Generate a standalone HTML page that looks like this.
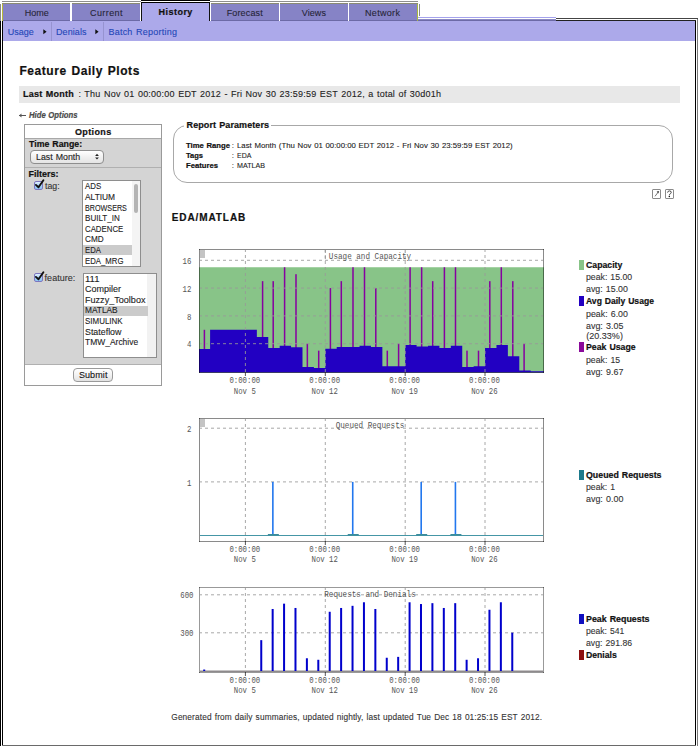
<!DOCTYPE html><html><head><meta charset="utf-8"><style>div{-webkit-text-stroke:0.1px currentColor}html,body{margin:0;padding:0;background:#fff;width:700px;height:748px;overflow:hidden;position:relative}</style></head><body><div style="position:absolute;left:0px;top:21px;width:1px;height:725px;background:#000;"></div>
<div style="position:absolute;left:0px;top:4px;width:1px;height:17px;background:#8a8a8a;"></div>
<div style="position:absolute;left:2px;top:3px;width:1px;height:743px;background:#000;"></div>
<div style="position:absolute;left:695px;top:20px;width:1px;height:726px;background:#000;"></div>
<div style="position:absolute;left:697px;top:19px;width:1px;height:727px;background:#7a7a7a;"></div>
<div style="position:absolute;left:2px;top:745px;width:694px;height:1px;background:#6a6a6a;"></div>
<div style="position:absolute;left:2px;top:1px;width:69px;height:1px;background:#8e8e8e;"></div>
<div style="position:absolute;left:2px;top:3px;width:69px;height:1px;background:#8a8a74;"></div>
<div style="position:absolute;left:3px;top:4px;width:67px;height:16px;background:#8683c6;"></div>
<div style="position:absolute;left:3px;top:20px;width:67px;height:1px;background:#6c6aa6;"></div>
<div style="position:absolute;left:71px;top:1px;width:70px;height:1px;background:#8e8e8e;"></div>
<div style="position:absolute;left:71px;top:3px;width:70px;height:1px;background:#8a8a74;"></div>
<div style="position:absolute;left:72px;top:4px;width:68px;height:16px;background:#8683c6;"></div>
<div style="position:absolute;left:72px;top:20px;width:68px;height:1px;background:#6c6aa6;"></div>
<div style="position:absolute;left:210px;top:1px;width:70px;height:1px;background:#8e8e8e;"></div>
<div style="position:absolute;left:210px;top:3px;width:70px;height:1px;background:#8a8a74;"></div>
<div style="position:absolute;left:211px;top:4px;width:68px;height:16px;background:#8683c6;"></div>
<div style="position:absolute;left:211px;top:20px;width:68px;height:1px;background:#6c6aa6;"></div>
<div style="position:absolute;left:279px;top:1px;width:70px;height:1px;background:#8e8e8e;"></div>
<div style="position:absolute;left:279px;top:3px;width:70px;height:1px;background:#8a8a74;"></div>
<div style="position:absolute;left:280px;top:4px;width:68px;height:16px;background:#8683c6;"></div>
<div style="position:absolute;left:280px;top:20px;width:68px;height:1px;background:#6c6aa6;"></div>
<div style="position:absolute;left:348px;top:1px;width:70px;height:1px;background:#8e8e8e;"></div>
<div style="position:absolute;left:348px;top:3px;width:70px;height:1px;background:#8a8a74;"></div>
<div style="position:absolute;left:349px;top:4px;width:68px;height:16px;background:#8683c6;"></div>
<div style="position:absolute;left:349px;top:20px;width:68px;height:1px;background:#6c6aa6;"></div>
<div style="position:absolute;left:70px;top:3px;width:1px;height:18px;background:#ffffff;"></div>
<div style="position:absolute;left:71px;top:3px;width:1px;height:18px;background:#ffffff;"></div>
<div style="position:absolute;left:140px;top:3px;width:1px;height:18px;background:#ffffff;"></div>
<div style="position:absolute;left:210px;top:3px;width:1px;height:18px;background:#ffffff;"></div>
<div style="position:absolute;left:279px;top:3px;width:1px;height:18px;background:#ffffff;"></div>
<div style="position:absolute;left:348px;top:3px;width:1px;height:18px;background:#ffffff;"></div>
<div style="position:absolute;left:141px;top:0px;width:69px;height:1px;background:#000;"></div>
<div style="position:absolute;left:141px;top:1px;width:69px;height:1px;background:#fff;"></div>
<div style="position:absolute;left:141px;top:2px;width:69px;height:1px;background:#000;"></div>
<div style="position:absolute;left:141px;top:3px;width:1px;height:18px;background:#111;"></div>
<div style="position:absolute;left:209px;top:3px;width:1px;height:18px;background:#111;"></div>
<div style="position:absolute;left:142px;top:3px;width:67px;height:18px;background:#aca9ea;"></div>
<div style="position:absolute;left:2px;top:4px;width:1px;height:17px;background:#b8b83a;"></div>
<div style="position:absolute;left:417px;top:4px;width:1px;height:17px;background:#a8b840;"></div>
<div style="position:absolute;left:419px;top:4px;width:1px;height:12px;background:#8a8a8a;"></div>
<div style="position:absolute;left:418px;top:17px;width:138px;height:1px;background:#a4a2ec;"></div>
<div style="position:absolute;left:418px;top:19px;width:138px;height:1px;background:#8b89c4;"></div>
<div style="position:absolute;left:418px;top:20px;width:138px;height:1px;background:#6c6aa6;"></div>
<div style="position:absolute;left:556px;top:18px;width:142px;height:1px;background:#444;"></div>
<div style="position:absolute;left:556px;top:20px;width:140px;height:1px;background:#222;"></div>
<div style="position:absolute;left:24.7px;top:8.78px;font-family:'Liberation Sans', sans-serif;font-size:9px;line-height:9px;font-weight:normal;font-style:normal;color:#262538;letter-spacing:-0.01px;word-spacing:0.666px;white-space:nowrap;">Home</div>
<div style="position:absolute;left:90.0px;top:8.78px;font-family:'Liberation Sans', sans-serif;font-size:9px;line-height:9px;font-weight:normal;font-style:normal;color:#262538;letter-spacing:0.423px;word-spacing:0.666px;white-space:nowrap;">Current</div>
<div style="position:absolute;left:158.6px;top:7.88px;font-family:'Liberation Sans', sans-serif;font-size:9px;line-height:9px;font-weight:bold;font-style:normal;color:#111111;letter-spacing:0.458px;word-spacing:0.576px;white-space:nowrap;-webkit-text-stroke:0.2px currentColor;">History</div>
<div style="position:absolute;left:226.7px;top:8.78px;font-family:'Liberation Sans', sans-serif;font-size:9px;line-height:9px;font-weight:normal;font-style:normal;color:#262538;letter-spacing:0.141px;word-spacing:0.666px;white-space:nowrap;">Forecast</div>
<div style="position:absolute;left:301.8px;top:8.78px;font-family:'Liberation Sans', sans-serif;font-size:9px;line-height:9px;font-weight:normal;font-style:normal;color:#262538;letter-spacing:0.062px;word-spacing:0.666px;white-space:nowrap;">Views</div>
<div style="position:absolute;left:365.0px;top:8.78px;font-family:'Liberation Sans', sans-serif;font-size:9px;line-height:9px;font-weight:normal;font-style:normal;color:#262538;letter-spacing:0.313px;word-spacing:0.666px;white-space:nowrap;">Network</div>
<div style="position:absolute;left:3px;top:21px;width:692px;height:20px;background:#aca9ea;"></div>
<div style="position:absolute;left:51px;top:22px;width:1px;height:19px;background:#9693d0;"></div>
<div style="position:absolute;left:103px;top:22px;width:1px;height:19px;background:#9693d0;"></div>
<div style="position:absolute;left:7.7px;top:28.08px;font-family:'Liberation Sans', sans-serif;font-size:9px;line-height:9px;font-weight:normal;font-style:normal;color:#2447b8;letter-spacing:0.022px;word-spacing:0.666px;white-space:nowrap;">Usage</div>
<div style="position:absolute;left:56.0px;top:28.08px;font-family:'Liberation Sans', sans-serif;font-size:9px;line-height:9px;font-weight:normal;font-style:normal;color:#2447b8;letter-spacing:0.072px;word-spacing:0.666px;white-space:nowrap;">Denials</div>
<div style="position:absolute;left:108.4px;top:28.08px;font-family:'Liberation Sans', sans-serif;font-size:9px;line-height:9px;font-weight:normal;font-style:normal;color:#2447b8;letter-spacing:0.243px;word-spacing:0.666px;white-space:nowrap;">Batch Reporting</div>
<svg style="position:absolute;left:42.7px;top:28.5px" width="5" height="7"><path d="M0.3 0.3 L3.6 2.8 L0.3 5.3 Z" fill="#111"/></svg>
<svg style="position:absolute;left:94.7px;top:28.5px" width="5" height="7"><path d="M0.3 0.3 L3.6 2.8 L0.3 5.3 Z" fill="#111"/></svg>
<div style="position:absolute;left:19.4px;top:64.84px;font-family:'Liberation Sans', sans-serif;font-size:12px;line-height:12px;font-weight:bold;font-style:normal;color:#111;letter-spacing:0.576px;word-spacing:0.768px;white-space:nowrap;-webkit-text-stroke:0.2px currentColor;">Feature Daily Plots</div>
<div style="position:absolute;left:19px;top:86px;width:661px;height:17px;background:#e8e8e8;"></div>
<div style="position:absolute;left:22.9px;top:89.58px;font-family:'Liberation Sans', sans-serif;font-size:9px;line-height:9px;font-weight:bold;font-style:normal;color:#111;letter-spacing:0.262px;word-spacing:0.576px;white-space:nowrap;-webkit-text-stroke:0.2px currentColor;">Last Month</div>
<div style="position:absolute;left:78.4px;top:89.58px;font-family:'Liberation Sans', sans-serif;font-size:9px;line-height:9px;font-weight:normal;font-style:normal;color:#222;letter-spacing:0.229px;word-spacing:0.666px;white-space:nowrap;">: Thu Nov 01 00:00:00 EDT 2012 - Fri Nov 30 23:59:59 EST 2012, a total of 30d01h</div>
<div style="position:absolute;left:28.5px;top:110.97px;font-family:'Liberation Sans', sans-serif;font-size:8.3px;line-height:8.3px;font-weight:bold;font-style:italic;color:#4a4a4a;letter-spacing:0px;word-spacing:0.531px;white-space:nowrap;transform:scaleX(0.9299);transform-origin:0.00px 0;-webkit-text-stroke:0.2px currentColor;">Hide Options</div>
<svg style="position:absolute;left:18px;top:112px" width="9" height="7"><path d="M1 3.5 H8" stroke="#555" stroke-width="1"/><path d="M1 3.5 L3.5 1.5 L3.5 5.5 Z" fill="#555"/></svg>
<div style="position:absolute;left:24px;top:124px;width:138px;height:262px;background:#fff;box-sizing:border-box;border:1px solid #9a9a9a"></div>
<div style="position:absolute;left:25px;top:138px;width:136px;height:226px;background:#d4d4d4;"></div>
<div style="position:absolute;left:25px;top:138px;width:136px;height:1px;background:#a8a8a8;"></div>
<div style="position:absolute;left:25px;top:167px;width:136px;height:1px;background:#b0b0b0;"></div>
<div style="position:absolute;left:25px;top:364px;width:136px;height:1px;background:#b0b0b0;"></div>
<div style="position:absolute;left:75.0px;top:127.78px;font-family:'Liberation Sans', sans-serif;font-size:9px;line-height:9px;font-weight:bold;font-style:normal;color:#111;letter-spacing:0.363px;word-spacing:0.576px;white-space:nowrap;-webkit-text-stroke:0.2px currentColor;">Options</div>
<div style="position:absolute;left:28.5px;top:139.58px;font-family:'Liberation Sans', sans-serif;font-size:9px;line-height:9px;font-weight:bold;font-style:normal;color:#111;letter-spacing:0px;word-spacing:0.576px;white-space:nowrap;transform:scaleX(0.9762);transform-origin:0.00px 0;-webkit-text-stroke:0.2px currentColor;">Time Range:</div>
<div style="position:absolute;left:30px;top:150.4px;width:74px;height:13.3px;box-sizing:border-box;border:1px solid #8e8e8e;border-radius:4px;background:linear-gradient(#ffffff,#f0f0f0 50%,#e4e4e4)"></div>
<div style="position:absolute;left:35.9px;top:152.88px;font-family:'Liberation Sans', sans-serif;font-size:9px;line-height:9px;font-weight:normal;font-style:normal;color:#222;letter-spacing:0px;word-spacing:0.666px;white-space:nowrap;transform:scaleX(0.9775);transform-origin:0.00px 0;">Last Month</div>
<svg style="position:absolute;left:94px;top:153px" width="6" height="8"><path d="M3 0.8 L4.9 3.1 L1.1 3.1 Z M3 6.6 L4.9 4.4 L1.1 4.4 Z" fill="#222"/></svg>
<div style="position:absolute;left:28.5px;top:169.78px;font-family:'Liberation Sans', sans-serif;font-size:9px;line-height:9px;font-weight:bold;font-style:normal;color:#111;letter-spacing:0.004px;word-spacing:0.576px;white-space:nowrap;-webkit-text-stroke:0.2px currentColor;">Filters:</div>
<div style="position:absolute;left:33.5px;top:181px;width:9px;height:9.2px;box-sizing:border-box;border:1px solid #7d76c0;border-radius:2px;background:linear-gradient(#e0f0ff,#9fcff8 60%,#8cc4f4)"></div><svg style="position:absolute;left:33.5px;top:178px" width="12" height="13"><path d="M1.9 6.9 L4.5 9.3 L9.4 2.2" stroke="#111" stroke-width="1.9" fill="none" stroke-linecap="round" stroke-linejoin="round"/></svg>
<div style="position:absolute;left:44.8px;top:181.78px;font-family:'Liberation Sans', sans-serif;font-size:9px;line-height:9px;font-weight:normal;font-style:normal;color:#333;letter-spacing:0px;word-spacing:0.666px;white-space:nowrap;transform:scaleX(0.9714);transform-origin:0.00px 0;">tag:</div>
<div style="position:absolute;left:33.5px;top:273.2px;width:9px;height:9.2px;box-sizing:border-box;border:1px solid #7d76c0;border-radius:2px;background:linear-gradient(#e0f0ff,#9fcff8 60%,#8cc4f4)"></div><svg style="position:absolute;left:33.5px;top:270.2px" width="12" height="13"><path d="M1.9 6.9 L4.5 9.3 L9.4 2.2" stroke="#111" stroke-width="1.9" fill="none" stroke-linecap="round" stroke-linejoin="round"/></svg>
<div style="position:absolute;left:44.6px;top:274.38px;font-family:'Liberation Sans', sans-serif;font-size:9px;line-height:9px;font-weight:normal;font-style:normal;color:#333;letter-spacing:0.013px;word-spacing:0.666px;white-space:nowrap;">feature:</div>
<div style="position:absolute;left:82px;top:180px;width:59px;height:87px;background:#fff;box-sizing:border-box;border:1px solid #8e8e8e"></div>
<div style="position:absolute;left:83px;top:245.3px;width:49px;height:9.5px;background:#cbcbcb;"></div>
<div style="position:absolute;left:132px;top:181px;width:8px;height:85px;background:#f4f4f4;"></div>
<div style="position:absolute;left:134.2px;top:183.6px;width:3.8px;height:29.4px;background:#b4b4b4;border-radius:2px"></div>
<div style="position:absolute;left:84.8px;top:182.32px;font-family:'Liberation Sans', sans-serif;font-size:8.6px;line-height:8.6px;font-weight:normal;font-style:normal;color:#222;letter-spacing:0px;word-spacing:0.636px;white-space:nowrap;transform:scaleX(0.9144);transform-origin:0.00px 0;">ADS</div>
<div style="position:absolute;left:84.8px;top:192.92px;font-family:'Liberation Sans', sans-serif;font-size:8.6px;line-height:8.6px;font-weight:normal;font-style:normal;color:#222;letter-spacing:0px;word-spacing:0.636px;white-space:nowrap;transform:scaleX(0.9749);transform-origin:0.00px 0;">ALTIUM</div>
<div style="position:absolute;left:84.8px;top:203.52px;font-family:'Liberation Sans', sans-serif;font-size:8.6px;line-height:8.6px;font-weight:normal;font-style:normal;color:#222;letter-spacing:0px;word-spacing:0.636px;white-space:nowrap;transform:scaleX(0.8357);transform-origin:0.00px 0;">BROWSERS</div>
<div style="position:absolute;left:84.8px;top:214.12px;font-family:'Liberation Sans', sans-serif;font-size:8.6px;line-height:8.6px;font-weight:normal;font-style:normal;color:#222;letter-spacing:0px;word-spacing:0.636px;white-space:nowrap;transform:scaleX(0.9394);transform-origin:0.00px 0;">BUILT_IN</div>
<div style="position:absolute;left:84.8px;top:224.72px;font-family:'Liberation Sans', sans-serif;font-size:8.6px;line-height:8.6px;font-weight:normal;font-style:normal;color:#222;letter-spacing:0px;word-spacing:0.636px;white-space:nowrap;transform:scaleX(0.9107);transform-origin:0.00px 0;">CADENCE</div>
<div style="position:absolute;left:84.8px;top:235.32px;font-family:'Liberation Sans', sans-serif;font-size:8.6px;line-height:8.6px;font-weight:normal;font-style:normal;color:#222;letter-spacing:0px;word-spacing:0.636px;white-space:nowrap;transform:scaleX(0.9537);transform-origin:0.00px 0;">CMD</div>
<div style="position:absolute;left:84.8px;top:245.92px;font-family:'Liberation Sans', sans-serif;font-size:8.6px;line-height:8.6px;font-weight:normal;font-style:normal;color:#222;letter-spacing:0px;word-spacing:0.636px;white-space:nowrap;transform:scaleX(0.8975);transform-origin:0.00px 0;">EDA</div>
<div style="position:absolute;left:84.8px;top:256.52px;font-family:'Liberation Sans', sans-serif;font-size:8.6px;line-height:8.6px;font-weight:normal;font-style:normal;color:#222;letter-spacing:0px;word-spacing:0.636px;white-space:nowrap;transform:scaleX(0.9044);transform-origin:0.00px 0;">EDA_MRG</div>
<div style="position:absolute;left:82.5px;top:272.5px;width:74px;height:85.5px;background:#fff;box-sizing:border-box;border:1px solid #8e8e8e"></div>
<div style="position:absolute;left:147.4px;top:273.5px;width:8.6px;height:83.5px;background:#f2f2f2;"></div>
<div style="position:absolute;left:83.5px;top:305.5px;width:64px;height:10px;background:#cbcbcb;"></div>
<div style="position:absolute;left:84.8px;top:274.62px;font-family:'Liberation Sans', sans-serif;font-size:8.6px;line-height:8.6px;font-weight:normal;font-style:normal;color:#222;letter-spacing:0px;word-spacing:0.636px;white-space:nowrap;transform:scaleX(1.1092);transform-origin:0.00px 0;">111</div>
<div style="position:absolute;left:84.8px;top:285.2px;font-family:'Liberation Sans', sans-serif;font-size:8.6px;line-height:8.6px;font-weight:normal;font-style:normal;color:#222;letter-spacing:0px;word-spacing:0.636px;white-space:nowrap;transform:scaleX(1.0494);transform-origin:0.00px 0;">Compiler</div>
<div style="position:absolute;left:84.8px;top:295.78px;font-family:'Liberation Sans', sans-serif;font-size:8.6px;line-height:8.6px;font-weight:normal;font-style:normal;color:#222;letter-spacing:0px;word-spacing:0.636px;white-space:nowrap;transform:scaleX(1.0547);transform-origin:0.00px 0;">Fuzzy_Toolbox</div>
<div style="position:absolute;left:84.8px;top:306.36px;font-family:'Liberation Sans', sans-serif;font-size:8.6px;line-height:8.6px;font-weight:normal;font-style:normal;color:#222;letter-spacing:0px;word-spacing:0.636px;white-space:nowrap;transform:scaleX(0.9675);transform-origin:0.00px 0;">MATLAB</div>
<div style="position:absolute;left:84.8px;top:316.94px;font-family:'Liberation Sans', sans-serif;font-size:8.6px;line-height:8.6px;font-weight:normal;font-style:normal;color:#222;letter-spacing:0px;word-spacing:0.636px;white-space:nowrap;transform:scaleX(0.9263);transform-origin:0.00px 0;">SIMULINK</div>
<div style="position:absolute;left:84.8px;top:327.52px;font-family:'Liberation Sans', sans-serif;font-size:8.6px;line-height:8.6px;font-weight:normal;font-style:normal;color:#222;letter-spacing:0px;word-spacing:0.636px;white-space:nowrap;transform:scaleX(1.0301);transform-origin:0.00px 0;">Stateflow</div>
<div style="position:absolute;left:84.8px;top:338.1px;font-family:'Liberation Sans', sans-serif;font-size:8.6px;line-height:8.6px;font-weight:normal;font-style:normal;color:#222;letter-spacing:0px;word-spacing:0.636px;white-space:nowrap;transform:scaleX(0.9850);transform-origin:0.00px 0;">TMW_Archive</div>
<div style="position:absolute;left:73px;top:368px;width:40px;height:14px;box-sizing:border-box;border:1px solid #9a9a9a;border-radius:4px;background:linear-gradient(#ffffff,#f2f2f2 50%,#e2e2e2)"></div>
<div style="position:absolute;left:78.9px;top:370.88px;font-family:'Liberation Sans', sans-serif;font-size:9px;line-height:9px;font-weight:normal;font-style:normal;color:#111;letter-spacing:0.102px;word-spacing:0.666px;white-space:nowrap;">Submit</div>
<div style="position:absolute;left:172.5px;top:125px;width:500.5px;height:57.5px;box-sizing:border-box;border:1px solid #a8a8a8;border-radius:14px"></div>
<div style="position:absolute;left:184px;top:122px;width:87px;height:6px;background:#fff;"></div>
<div style="position:absolute;left:186.6px;top:120.68px;font-family:'Liberation Sans', sans-serif;font-size:9px;line-height:9px;font-weight:bold;font-style:normal;color:#111;letter-spacing:0.08px;word-spacing:0.576px;white-space:nowrap;-webkit-text-stroke:0.2px currentColor;">Report Parameters</div>
<div style="position:absolute;left:186.0px;top:142.03px;font-family:'Liberation Sans', sans-serif;font-size:8px;line-height:8px;font-weight:bold;font-style:normal;color:#111;letter-spacing:0px;word-spacing:0.512px;white-space:nowrap;transform:scaleX(0.9625);transform-origin:0.00px 0;-webkit-text-stroke:0.2px currentColor;">Time Range</div>
<div style="position:absolute;left:231.8px;top:142.03px;font-family:'Liberation Sans', sans-serif;font-size:8px;line-height:8px;font-weight:normal;font-style:normal;color:#222;letter-spacing:0px;word-spacing:0.592px;white-space:nowrap;">:</div>
<div style="position:absolute;left:236.6px;top:142.03px;font-family:'Liberation Sans', sans-serif;font-size:8px;line-height:8px;font-weight:normal;font-style:normal;color:#222;letter-spacing:0px;word-spacing:0.592px;white-space:nowrap;transform:scaleX(0.9730);transform-origin:0.00px 0;">Last Month (Thu Nov 01 00:00:00 EDT 2012 - Fri Nov 30 23:59:59 EST 2012)</div>
<div style="position:absolute;left:186.0px;top:151.78px;font-family:'Liberation Sans', sans-serif;font-size:8px;line-height:8px;font-weight:bold;font-style:normal;color:#111;letter-spacing:0px;word-spacing:0.512px;white-space:nowrap;transform:scaleX(0.9403);transform-origin:0.00px 0;-webkit-text-stroke:0.2px currentColor;">Tags</div>
<div style="position:absolute;left:231.8px;top:151.78px;font-family:'Liberation Sans', sans-serif;font-size:8px;line-height:8px;font-weight:normal;font-style:normal;color:#222;letter-spacing:0px;word-spacing:0.592px;white-space:nowrap;">:</div>
<div style="position:absolute;left:236.6px;top:151.78px;font-family:'Liberation Sans', sans-serif;font-size:8px;line-height:8px;font-weight:normal;font-style:normal;color:#222;letter-spacing:0px;word-spacing:0.592px;white-space:nowrap;transform:scaleX(0.8738);transform-origin:0.00px 0;">EDA</div>
<div style="position:absolute;left:186.0px;top:161.93px;font-family:'Liberation Sans', sans-serif;font-size:8px;line-height:8px;font-weight:bold;font-style:normal;color:#111;letter-spacing:0px;word-spacing:0.512px;white-space:nowrap;transform:scaleX(0.9592);transform-origin:0.00px 0;-webkit-text-stroke:0.2px currentColor;">Features</div>
<div style="position:absolute;left:231.8px;top:161.93px;font-family:'Liberation Sans', sans-serif;font-size:8px;line-height:8px;font-weight:normal;font-style:normal;color:#222;letter-spacing:0px;word-spacing:0.592px;white-space:nowrap;">:</div>
<div style="position:absolute;left:236.6px;top:161.93px;font-family:'Liberation Sans', sans-serif;font-size:8px;line-height:8px;font-weight:normal;font-style:normal;color:#222;letter-spacing:0px;word-spacing:0.592px;white-space:nowrap;transform:scaleX(0.8906);transform-origin:0.00px 0;">MATLAB</div>
<div style="position:absolute;left:652.2px;top:189.2px;width:8.8px;height:9.4px;background:#fff;box-sizing:border-box;border:1px solid #8a8a8a;border-radius:1px"></div>
<div style="position:absolute;left:665.2px;top:189.2px;width:8.8px;height:9.4px;background:#fff;box-sizing:border-box;border:1px solid #8a8a8a;border-radius:1px"></div>
<svg style="position:absolute;left:652.2px;top:189.2px" width="9" height="10"><path d="M3 7.3 L6.6 2.6" stroke="#666" stroke-width="0.9" fill="none"/><path d="M7 2 L4.6 2.6 L6.4 4.4 Z" fill="#444"/></svg>
<svg style="position:absolute;left:665.2px;top:189.2px" width="9" height="10"><path d="M2.6 3.6 Q2.8 1.8 4.6 1.9 Q6.6 2.1 6.2 3.7 Q5.9 4.6 4.6 5.3 L4.4 6.3" stroke="#333" stroke-width="0.9" fill="none"/><circle cx="4.3" cy="7.6" r="0.75" fill="#111"/></svg>
<div style="position:absolute;left:171.7px;top:212.84px;font-family:'Liberation Sans', sans-serif;font-size:10px;line-height:10px;font-weight:bold;font-style:normal;color:#111;letter-spacing:0.911px;word-spacing:0.64px;white-space:nowrap;-webkit-text-stroke:0.2px currentColor;">EDA/MATLAB</div>
<svg style="position:absolute;left:0;top:0" width="700" height="748"><rect x="199" y="267.25" width="345" height="105.35" fill="#88c488"/><rect x="203.65" y="329.80" width="1.5" height="42.10" fill="#8600a0"/><rect x="261.85" y="281.15" width="1.5" height="90.75" fill="#8600a0"/><rect x="272.45" y="281.15" width="1.5" height="90.75" fill="#8600a0"/><rect x="283.85" y="267.25" width="1.5" height="104.65" fill="#8600a0"/><rect x="295.25" y="274.20" width="1.5" height="97.70" fill="#8600a0"/><rect x="306.60" y="343.70" width="1.5" height="28.20" fill="#8600a0"/><rect x="317.95" y="350.65" width="1.5" height="21.25" fill="#8600a0"/><rect x="329.65" y="288.10" width="1.5" height="83.80" fill="#8600a0"/><rect x="340.55" y="281.15" width="1.5" height="90.75" fill="#8600a0"/><rect x="352.25" y="267.25" width="1.5" height="104.65" fill="#8600a0"/><rect x="363.75" y="267.25" width="1.5" height="104.65" fill="#8600a0"/><rect x="375.05" y="288.10" width="1.5" height="83.80" fill="#8600a0"/><rect x="386.55" y="350.65" width="1.5" height="21.25" fill="#8600a0"/><rect x="397.85" y="343.70" width="1.5" height="28.20" fill="#8600a0"/><rect x="409.35" y="267.25" width="1.5" height="104.65" fill="#8600a0"/><rect x="420.90" y="267.25" width="1.5" height="104.65" fill="#8600a0"/><rect x="431.95" y="281.15" width="1.5" height="90.75" fill="#8600a0"/><rect x="443.65" y="267.25" width="1.5" height="104.65" fill="#8600a0"/><rect x="454.75" y="267.25" width="1.5" height="104.65" fill="#8600a0"/><rect x="466.25" y="350.65" width="1.5" height="21.25" fill="#8600a0"/><rect x="477.75" y="350.65" width="1.5" height="21.25" fill="#8600a0"/><rect x="489.05" y="281.15" width="1.5" height="90.75" fill="#8600a0"/><rect x="500.55" y="267.25" width="1.5" height="104.65" fill="#8600a0"/><rect x="512.05" y="281.15" width="1.5" height="90.75" fill="#8600a0"/><rect x="523.35" y="343.70" width="1.5" height="28.20" fill="#8600a0"/><polygon fill="#2200c2" points="199.00,372.60 199.00,349.12 210.10,349.12 210.10,329.80 222.62,329.80 222.62,329.80 234.03,329.80 234.03,329.80 245.44,329.80 245.44,329.80 256.85,329.80 256.85,337.10 268.26,337.10 268.26,348.01 279.67,348.01 279.67,345.78 291.08,345.78 291.08,347.18 302.49,347.18 302.49,367.12 313.90,367.12 313.90,368.02 325.31,368.02 325.31,348.77 336.72,348.77 336.72,347.11 348.13,347.11 348.13,347.11 359.54,347.11 359.54,345.72 370.95,345.72 370.95,347.11 382.36,347.11 382.36,366.29 393.77,366.29 393.77,366.29 405.18,366.29 405.18,344.88 416.59,344.88 416.59,346.62 428.00,346.62 428.00,345.72 439.41,345.72 439.41,348.01 450.82,348.01 450.82,345.72 462.23,345.72 462.23,367.12 473.64,367.12 473.64,366.29 485.05,366.29 485.05,348.01 496.46,348.01 496.46,344.88 507.87,344.88 507.87,356.28 519.28,356.28 519.28,370.60 530.69,370.60 530.69,371.15 544.00,371.15 544.00,372.60"/><line x1="245.4" y1="250" x2="245.4" y2="372" stroke="#999999" stroke-opacity="0.85" stroke-width="1" stroke-dasharray="3,3" stroke-dashoffset="1"/><line x1="245.4" y1="372" x2="245.4" y2="376" stroke="#555" stroke-width="1"/><line x1="325.3" y1="250" x2="325.3" y2="372" stroke="#999999" stroke-opacity="0.85" stroke-width="1" stroke-dasharray="3,3" stroke-dashoffset="1"/><line x1="325.3" y1="372" x2="325.3" y2="376" stroke="#555" stroke-width="1"/><line x1="405.2" y1="250" x2="405.2" y2="372" stroke="#999999" stroke-opacity="0.85" stroke-width="1" stroke-dasharray="3,3" stroke-dashoffset="1"/><line x1="405.2" y1="372" x2="405.2" y2="376" stroke="#555" stroke-width="1"/><line x1="485.0" y1="250" x2="485.0" y2="372" stroke="#999999" stroke-opacity="0.85" stroke-width="1" stroke-dasharray="3,3" stroke-dashoffset="1"/><line x1="485.0" y1="372" x2="485.0" y2="376" stroke="#555" stroke-width="1"/><line x1="200" y1="343.7" x2="543" y2="343.7" stroke="#999999" stroke-opacity="0.85" stroke-width="1" stroke-dasharray="3,3" stroke-dashoffset="1"/><line x1="200" y1="315.9" x2="543" y2="315.9" stroke="#999999" stroke-opacity="0.85" stroke-width="1" stroke-dasharray="3,3" stroke-dashoffset="1"/><line x1="200" y1="288.1" x2="543" y2="288.1" stroke="#999999" stroke-opacity="0.85" stroke-width="1" stroke-dasharray="3,3" stroke-dashoffset="1"/><line x1="200" y1="260.3" x2="543" y2="260.3" stroke="#999999" stroke-opacity="0.85" stroke-width="1" stroke-dasharray="3,3" stroke-dashoffset="1"/><rect x="326" y="250" width="88" height="9" fill="#fff"/><line x1="325.3" y1="250" x2="325.3" y2="259" stroke="#999999" stroke-dasharray="3,3"/><line x1="405.2" y1="250" x2="405.2" y2="259" stroke="#999999" stroke-dasharray="3,3"/><text transform="translate(370.00,258.80) scale(0.795,1)" text-anchor="middle" font-family="Liberation Mono" font-size="9.6" fill="#555555">Usage and Capacity</text><rect x="199" y="249" width="345" height="1" fill="rgba(0,0,0,0.46)"/><rect x="199" y="372" width="345" height="1" fill="rgba(0,0,0,0.46)"/><rect x="199" y="249" width="1" height="124" fill="rgba(0,0,0,0.46)"/><rect x="543" y="249" width="1" height="124" fill="rgba(0,0,0,0.46)"/><rect x="200" y="250" width="5" height="8" fill="#c4c4c4"/><text transform="translate(191.30,347.40) scale(0.765,1)" text-anchor="end" font-family="Liberation Mono" font-size="9.6" fill="#555555">4</text><text transform="translate(191.30,319.60) scale(0.765,1)" text-anchor="end" font-family="Liberation Mono" font-size="9.6" fill="#555555">8</text><text transform="translate(191.30,291.80) scale(0.765,1)" text-anchor="end" font-family="Liberation Mono" font-size="9.6" fill="#555555">12</text><text transform="translate(191.30,264.00) scale(0.765,1)" text-anchor="end" font-family="Liberation Mono" font-size="9.6" fill="#555555">16</text><text transform="translate(244.80,383.30) scale(0.765,1)" text-anchor="middle" font-family="Liberation Mono" font-size="9.6" fill="#555555">0:00:00</text><text transform="translate(244.80,393.60) scale(0.765,1)" text-anchor="middle" font-family="Liberation Mono" font-size="9.6" fill="#555555">Nov 5</text><text transform="translate(324.70,383.30) scale(0.765,1)" text-anchor="middle" font-family="Liberation Mono" font-size="9.6" fill="#555555">0:00:00</text><text transform="translate(324.70,393.60) scale(0.765,1)" text-anchor="middle" font-family="Liberation Mono" font-size="9.6" fill="#555555">Nov 12</text><text transform="translate(404.60,383.30) scale(0.765,1)" text-anchor="middle" font-family="Liberation Mono" font-size="9.6" fill="#555555">0:00:00</text><text transform="translate(404.60,393.60) scale(0.765,1)" text-anchor="middle" font-family="Liberation Mono" font-size="9.6" fill="#555555">Nov 19</text><text transform="translate(484.40,383.30) scale(0.765,1)" text-anchor="middle" font-family="Liberation Mono" font-size="9.6" fill="#555555">0:00:00</text><text transform="translate(484.40,393.60) scale(0.765,1)" text-anchor="middle" font-family="Liberation Mono" font-size="9.6" fill="#555555">Nov 26</text><line x1="245.4" y1="419" x2="245.4" y2="541" stroke="#999999" stroke-opacity="0.85" stroke-width="1" stroke-dasharray="3,3" stroke-dashoffset="1"/><line x1="245.4" y1="541" x2="245.4" y2="545" stroke="#555" stroke-width="1"/><line x1="325.3" y1="419" x2="325.3" y2="541" stroke="#999999" stroke-opacity="0.85" stroke-width="1" stroke-dasharray="3,3" stroke-dashoffset="1"/><line x1="325.3" y1="541" x2="325.3" y2="545" stroke="#555" stroke-width="1"/><line x1="405.2" y1="419" x2="405.2" y2="541" stroke="#999999" stroke-opacity="0.85" stroke-width="1" stroke-dasharray="3,3" stroke-dashoffset="1"/><line x1="405.2" y1="541" x2="405.2" y2="545" stroke="#555" stroke-width="1"/><line x1="485.0" y1="419" x2="485.0" y2="541" stroke="#999999" stroke-opacity="0.85" stroke-width="1" stroke-dasharray="3,3" stroke-dashoffset="1"/><line x1="485.0" y1="541" x2="485.0" y2="545" stroke="#555" stroke-width="1"/><line x1="200" y1="481.9" x2="543" y2="481.9" stroke="#999999" stroke-opacity="0.85" stroke-width="1" stroke-dasharray="3,3" stroke-dashoffset="1"/><line x1="200" y1="428.2" x2="543" y2="428.2" stroke="#999999" stroke-opacity="0.85" stroke-width="1" stroke-dasharray="3,3" stroke-dashoffset="1"/><rect x="200" y="535" width="343" height="1" fill="#4596a6"/><rect x="272.06" y="481.90" width="1.6" height="53.10" fill="#2277ee"/><rect x="267.86" y="534" width="11" height="1.5" fill="#3a8c9c"/><rect x="351.93" y="481.90" width="1.6" height="53.10" fill="#2277ee"/><rect x="347.73" y="534" width="11" height="1.5" fill="#3a8c9c"/><rect x="420.39" y="481.90" width="1.6" height="53.10" fill="#2277ee"/><rect x="416.19" y="534" width="11" height="1.5" fill="#3a8c9c"/><rect x="454.62" y="481.90" width="1.6" height="53.10" fill="#2277ee"/><rect x="450.42" y="534" width="11" height="1.5" fill="#3a8c9c"/><text transform="translate(370.00,427.60) scale(0.795,1)" text-anchor="middle" font-family="Liberation Mono" font-size="9.6" fill="#555555">Queued Requests</text><rect x="199" y="418" width="345" height="1" fill="rgba(0,0,0,0.46)"/><rect x="199" y="541" width="345" height="1" fill="rgba(0,0,0,0.46)"/><rect x="199" y="418" width="1" height="124" fill="rgba(0,0,0,0.46)"/><rect x="543" y="418" width="1" height="124" fill="rgba(0,0,0,0.46)"/><rect x="200" y="419" width="5" height="8" fill="#c4c4c4"/><text transform="translate(191.30,431.90) scale(0.765,1)" text-anchor="end" font-family="Liberation Mono" font-size="9.6" fill="#555555">2</text><text transform="translate(191.30,485.60) scale(0.765,1)" text-anchor="end" font-family="Liberation Mono" font-size="9.6" fill="#555555">1</text><text transform="translate(244.80,551.90) scale(0.765,1)" text-anchor="middle" font-family="Liberation Mono" font-size="9.6" fill="#555555">0:00:00</text><text transform="translate(244.80,562.30) scale(0.765,1)" text-anchor="middle" font-family="Liberation Mono" font-size="9.6" fill="#555555">Nov 5</text><text transform="translate(324.70,551.90) scale(0.765,1)" text-anchor="middle" font-family="Liberation Mono" font-size="9.6" fill="#555555">0:00:00</text><text transform="translate(324.70,562.30) scale(0.765,1)" text-anchor="middle" font-family="Liberation Mono" font-size="9.6" fill="#555555">Nov 12</text><text transform="translate(404.60,551.90) scale(0.765,1)" text-anchor="middle" font-family="Liberation Mono" font-size="9.6" fill="#555555">0:00:00</text><text transform="translate(404.60,562.30) scale(0.765,1)" text-anchor="middle" font-family="Liberation Mono" font-size="9.6" fill="#555555">Nov 19</text><text transform="translate(484.40,551.90) scale(0.765,1)" text-anchor="middle" font-family="Liberation Mono" font-size="9.6" fill="#555555">0:00:00</text><text transform="translate(484.40,562.30) scale(0.765,1)" text-anchor="middle" font-family="Liberation Mono" font-size="9.6" fill="#555555">Nov 26</text><line x1="245.4" y1="588" x2="245.4" y2="672" stroke="#999999" stroke-opacity="0.85" stroke-width="1" stroke-dasharray="3,3" stroke-dashoffset="1"/><line x1="245.4" y1="672" x2="245.4" y2="676" stroke="#555" stroke-width="1"/><line x1="325.3" y1="588" x2="325.3" y2="672" stroke="#999999" stroke-opacity="0.85" stroke-width="1" stroke-dasharray="3,3" stroke-dashoffset="1"/><line x1="325.3" y1="672" x2="325.3" y2="676" stroke="#555" stroke-width="1"/><line x1="405.2" y1="588" x2="405.2" y2="672" stroke="#999999" stroke-opacity="0.85" stroke-width="1" stroke-dasharray="3,3" stroke-dashoffset="1"/><line x1="405.2" y1="672" x2="405.2" y2="676" stroke="#555" stroke-width="1"/><line x1="485.0" y1="588" x2="485.0" y2="672" stroke="#999999" stroke-opacity="0.85" stroke-width="1" stroke-dasharray="3,3" stroke-dashoffset="1"/><line x1="485.0" y1="672" x2="485.0" y2="676" stroke="#555" stroke-width="1"/><line x1="200" y1="632.8" x2="543" y2="632.8" stroke="#999999" stroke-opacity="0.85" stroke-width="1" stroke-dasharray="3,3" stroke-dashoffset="1"/><line x1="200" y1="594.8" x2="543" y2="594.8" stroke="#999999" stroke-opacity="0.85" stroke-width="1" stroke-dasharray="3,3" stroke-dashoffset="1"/><rect x="200" y="670.5" width="343" height="1.5" fill="#8e8a8c"/><rect x="203.20" y="669.53" width="2" height="1.47" fill="#0000cc"/><rect x="260.25" y="640.15" width="2" height="30.85" fill="#0000cc"/><rect x="271.66" y="608.99" width="2" height="62.01" fill="#0000cc"/><rect x="283.07" y="603.66" width="2" height="67.34" fill="#0000cc"/><rect x="294.48" y="607.97" width="2" height="63.03" fill="#0000cc"/><rect x="305.89" y="658.26" width="2" height="12.74" fill="#0000cc"/><rect x="317.30" y="659.78" width="2" height="11.22" fill="#0000cc"/><rect x="328.71" y="611.77" width="2" height="59.23" fill="#0000cc"/><rect x="340.12" y="607.97" width="2" height="63.03" fill="#0000cc"/><rect x="351.53" y="605.82" width="2" height="65.18" fill="#0000cc"/><rect x="362.94" y="602.27" width="2" height="68.73" fill="#0000cc"/><rect x="374.35" y="608.99" width="2" height="62.01" fill="#0000cc"/><rect x="385.76" y="657.75" width="2" height="13.25" fill="#0000cc"/><rect x="397.17" y="656.87" width="2" height="14.13" fill="#0000cc"/><rect x="408.58" y="602.27" width="2" height="68.73" fill="#0000cc"/><rect x="419.99" y="604.04" width="2" height="66.96" fill="#0000cc"/><rect x="431.40" y="603.16" width="2" height="67.84" fill="#0000cc"/><rect x="442.81" y="607.97" width="2" height="63.03" fill="#0000cc"/><rect x="454.22" y="603.16" width="2" height="67.84" fill="#0000cc"/><rect x="465.63" y="659.78" width="2" height="11.22" fill="#0000cc"/><rect x="477.04" y="658.26" width="2" height="12.74" fill="#0000cc"/><rect x="488.45" y="609.75" width="2" height="61.25" fill="#0000cc"/><rect x="499.86" y="602.27" width="2" height="68.73" fill="#0000cc"/><rect x="511.27" y="632.67" width="2" height="38.33" fill="#0000cc"/><text transform="translate(370.00,597.10) scale(0.795,1)" text-anchor="middle" font-family="Liberation Mono" font-size="9.6" fill="#555555">Requests and Denials</text><rect x="199" y="587" width="345" height="1" fill="rgba(0,0,0,0.4)"/><rect x="199" y="672" width="345" height="1" fill="rgba(0,0,0,0.4)"/><rect x="199" y="587" width="1" height="86" fill="rgba(0,0,0,0.4)"/><rect x="543" y="587" width="1" height="86" fill="rgba(0,0,0,0.4)"/><text transform="translate(193.50,597.70) scale(0.765,1)" text-anchor="end" font-family="Liberation Mono" font-size="9.6" fill="#555555">600</text><text transform="translate(193.50,635.70) scale(0.765,1)" text-anchor="end" font-family="Liberation Mono" font-size="9.6" fill="#555555">300</text><text transform="translate(244.80,683.40) scale(0.765,1)" text-anchor="middle" font-family="Liberation Mono" font-size="9.6" fill="#555555">0:00:00</text><text transform="translate(244.80,693.20) scale(0.765,1)" text-anchor="middle" font-family="Liberation Mono" font-size="9.6" fill="#555555">Nov 5</text><text transform="translate(324.70,683.40) scale(0.765,1)" text-anchor="middle" font-family="Liberation Mono" font-size="9.6" fill="#555555">0:00:00</text><text transform="translate(324.70,693.20) scale(0.765,1)" text-anchor="middle" font-family="Liberation Mono" font-size="9.6" fill="#555555">Nov 12</text><text transform="translate(404.60,683.40) scale(0.765,1)" text-anchor="middle" font-family="Liberation Mono" font-size="9.6" fill="#555555">0:00:00</text><text transform="translate(404.60,693.20) scale(0.765,1)" text-anchor="middle" font-family="Liberation Mono" font-size="9.6" fill="#555555">Nov 19</text><text transform="translate(484.40,683.40) scale(0.765,1)" text-anchor="middle" font-family="Liberation Mono" font-size="9.6" fill="#555555">0:00:00</text><text transform="translate(484.40,693.20) scale(0.765,1)" text-anchor="middle" font-family="Liberation Mono" font-size="9.6" fill="#555555">Nov 26</text></svg>
<div style="position:absolute;left:579px;top:260px;width:4.5px;height:10px;background:#88c488;"></div>
<div style="position:absolute;left:586.3px;top:260.88px;font-family:'Liberation Sans', sans-serif;font-size:9px;line-height:9px;font-weight:bold;font-style:normal;color:#111;letter-spacing:0px;word-spacing:0.576px;white-space:nowrap;transform:scaleX(0.9672);transform-origin:0.00px 0;-webkit-text-stroke:0.2px currentColor;">Capacity</div>
<div style="position:absolute;left:586.3px;top:273.38px;font-family:'Liberation Sans', sans-serif;font-size:9px;line-height:9px;font-weight:normal;font-style:normal;color:#333;letter-spacing:0px;word-spacing:0.666px;white-space:nowrap;transform:scaleX(0.9678);transform-origin:0.00px 0;">peak: 15.00</div>
<div style="position:absolute;left:586.3px;top:285.48px;font-family:'Liberation Sans', sans-serif;font-size:9px;line-height:9px;font-weight:normal;font-style:normal;color:#333;letter-spacing:0px;word-spacing:0.666px;white-space:nowrap;transform:scaleX(0.9814);transform-origin:0.00px 0;">avg: 15.00</div>
<div style="position:absolute;left:579px;top:296px;width:4.5px;height:10px;background:#2200c2;"></div>
<div style="position:absolute;left:586.3px;top:297.38px;font-family:'Liberation Sans', sans-serif;font-size:9px;line-height:9px;font-weight:bold;font-style:normal;color:#111;letter-spacing:0px;word-spacing:0.576px;white-space:nowrap;transform:scaleX(0.9516);transform-origin:0.00px 0;-webkit-text-stroke:0.2px currentColor;">Avg Daily Usage</div>
<div style="position:absolute;left:586.3px;top:310.08px;font-family:'Liberation Sans', sans-serif;font-size:9px;line-height:9px;font-weight:normal;font-style:normal;color:#333;letter-spacing:0px;word-spacing:0.666px;white-space:nowrap;transform:scaleX(0.9814);transform-origin:0.00px 0;">peak: 6.00</div>
<div style="position:absolute;left:586.3px;top:322.18px;font-family:'Liberation Sans', sans-serif;font-size:9px;line-height:9px;font-weight:normal;font-style:normal;color:#333;letter-spacing:0px;word-spacing:0.666px;white-space:nowrap;transform:scaleX(0.9905);transform-origin:0.00px 0;">avg: 3.05</div>
<div style="position:absolute;left:586.3px;top:331.68px;font-family:'Liberation Sans', sans-serif;font-size:9px;line-height:9px;font-weight:normal;font-style:normal;color:#333;letter-spacing:0.009px;word-spacing:0.666px;white-space:nowrap;">(20.33%)</div>
<div style="position:absolute;left:579px;top:342px;width:4.5px;height:10px;background:#8a0a9a;"></div>
<div style="position:absolute;left:586.3px;top:343.18px;font-family:'Liberation Sans', sans-serif;font-size:9px;line-height:9px;font-weight:bold;font-style:normal;color:#111;letter-spacing:0px;word-spacing:0.576px;white-space:nowrap;transform:scaleX(0.9713);transform-origin:0.00px 0;-webkit-text-stroke:0.2px currentColor;">Peak Usage</div>
<div style="position:absolute;left:586.3px;top:355.68px;font-family:'Liberation Sans', sans-serif;font-size:9px;line-height:9px;font-weight:normal;font-style:normal;color:#333;letter-spacing:0px;word-spacing:0.666px;white-space:nowrap;transform:scaleX(0.9680);transform-origin:0.00px 0;">peak: 15</div>
<div style="position:absolute;left:586.3px;top:367.68px;font-family:'Liberation Sans', sans-serif;font-size:9px;line-height:9px;font-weight:normal;font-style:normal;color:#333;letter-spacing:0px;word-spacing:0.666px;white-space:nowrap;transform:scaleX(0.9905);transform-origin:0.00px 0;">avg: 9.67</div>
<div style="position:absolute;left:579px;top:470px;width:4.5px;height:10px;background:#1d7a8c;"></div>
<div style="position:absolute;left:586.3px;top:470.98px;font-family:'Liberation Sans', sans-serif;font-size:9px;line-height:9px;font-weight:bold;font-style:normal;color:#111;letter-spacing:0px;word-spacing:0.576px;white-space:nowrap;transform:scaleX(0.9796);transform-origin:0.00px 0;-webkit-text-stroke:0.2px currentColor;">Queued Requests</div>
<div style="position:absolute;left:586.3px;top:483.38px;font-family:'Liberation Sans', sans-serif;font-size:9px;line-height:9px;font-weight:normal;font-style:normal;color:#333;letter-spacing:0px;word-spacing:0.666px;white-space:nowrap;transform:scaleX(0.9640);transform-origin:0.00px 0;">peak: 1</div>
<div style="position:absolute;left:586.3px;top:495.08px;font-family:'Liberation Sans', sans-serif;font-size:9px;line-height:9px;font-weight:normal;font-style:normal;color:#333;letter-spacing:0px;word-spacing:0.666px;white-space:nowrap;transform:scaleX(0.9905);transform-origin:0.00px 0;">avg: 0.00</div>
<div style="position:absolute;left:579px;top:614px;width:4.5px;height:10px;background:#1010c0;"></div>
<div style="position:absolute;left:586.3px;top:614.68px;font-family:'Liberation Sans', sans-serif;font-size:9px;line-height:9px;font-weight:bold;font-style:normal;color:#111;letter-spacing:0px;word-spacing:0.576px;white-space:nowrap;transform:scaleX(0.9835);transform-origin:0.00px 0;-webkit-text-stroke:0.2px currentColor;">Peak Requests</div>
<div style="position:absolute;left:586.3px;top:627.08px;font-family:'Liberation Sans', sans-serif;font-size:9px;line-height:9px;font-weight:normal;font-style:normal;color:#333;letter-spacing:0px;word-spacing:0.666px;white-space:nowrap;transform:scaleX(0.9508);transform-origin:0.00px 0;">peak: 541</div>
<div style="position:absolute;left:586.3px;top:639.08px;font-family:'Liberation Sans', sans-serif;font-size:9px;line-height:9px;font-weight:normal;font-style:normal;color:#333;letter-spacing:0px;word-spacing:0.666px;white-space:nowrap;transform:scaleX(0.9678);transform-origin:0.00px 0;">avg: 291.86</div>
<div style="position:absolute;left:579px;top:650px;width:4.5px;height:10px;background:#8c1010;"></div>
<div style="position:absolute;left:586.3px;top:651.18px;font-family:'Liberation Sans', sans-serif;font-size:9px;line-height:9px;font-weight:bold;font-style:normal;color:#111;letter-spacing:0px;word-spacing:0.576px;white-space:nowrap;transform:scaleX(0.9613);transform-origin:0.00px 0;-webkit-text-stroke:0.2px currentColor;">Denials</div>
<div style="position:absolute;left:171.3px;top:713.27px;font-family:'Liberation Sans', sans-serif;font-size:8.3px;line-height:8.3px;font-weight:normal;font-style:normal;color:#333;letter-spacing:0.128px;word-spacing:0.614px;white-space:nowrap;">Generated from daily summaries, updated nightly, last updated Tue Dec 18 01:25:15 EST 2012.</div></body></html>
